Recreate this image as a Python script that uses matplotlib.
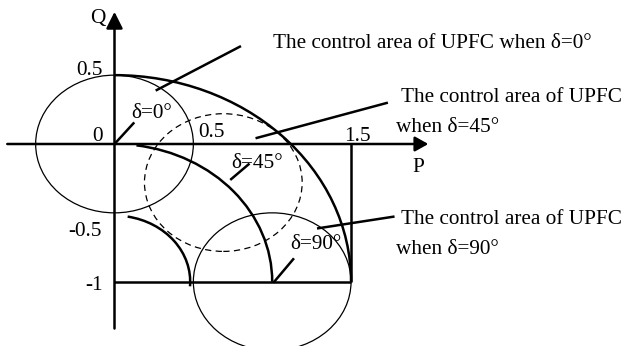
import matplotlib
matplotlib.use("Agg")
import matplotlib.pyplot as plt
from matplotlib.patches import Circle, Arc

plt.rcParams['font.family'] = ['Liberation Serif', 'DejaVu Serif']

# ---- data ----
delta_labels = ["δ=0°", "δ=45°", "δ=90°"]
region_center_P = [0.0, 0.69, 1.0]
region_center_Q = [0.0, -0.28, -1.0]
region_radius = [0.5, 0.5, 0.5]
region_style = ["solid", "dashed", "solid"]

boundary_center = (0.0, -1.0)
boundary_radius = [0.48, 1.0, 1.5]
boundary_theta1 = [-4, 0, 0]
boundary_theta2 = [80, 82, 90]

p_ticks = [0.5, 1.5]
p_tick_labels = ["0.5", "1.5"]
q_ticks = [0.5, 0, -0.5, -1]
q_tick_labels = ["0.5", "0", "-0.5", "-1"]

area_texts = [["The control area of UPFC when δ=0°"],
              ["The control area of UPFC", "when δ=45°"],
              ["The control area of UPFC", "when δ=90°"]]

# ---- figure ----
W, H = 623, 346
fig = plt.figure(figsize=(W / 100, H / 100), dpi=100)
ax = fig.add_axes([0, 0, 1, 1])
ox, oy, sx, sy = 114.5, 144.0, 157.7, 137.7
ax.set_xlim(-ox / sx, (W - ox) / sx)
ax.set_ylim((oy - H) / sy, oy / sy)
ax.axis('off')

FS = 15.3
thick = 1.8
thin = 0.9

# axes with arrows
ax.annotate('', xy=(1.99, 0), xytext=(-0.68, 0),
            arrowprops=dict(arrowstyle='-|>,head_length=0.5,head_width=0.28',
                            lw=thick, color='k', shrinkA=0, shrinkB=0,
                            mutation_scale=16))
ax.annotate('', xy=(0, 0.96), xytext=(0, -1.34),
            arrowprops=dict(arrowstyle='-|>,head_length=0.5,head_width=0.25',
                            lw=thick, color='k', shrinkA=0, shrinkB=0,
                            mutation_scale=20))

# boundary lines
ax.plot([0, 1.5], [-1, -1], color='k', lw=thick, solid_capstyle='butt')
ax.plot([1.5, 1.5], [0, -1], color='k', lw=thick, solid_capstyle='butt')

# boundary arcs
for r, t1, t2 in zip(boundary_radius, boundary_theta1, boundary_theta2):
    ax.add_patch(Arc(boundary_center, 2 * r, 2 * r, theta1=t1, theta2=t2,
                     color='k', lw=thick))

# control-area circles
for cp, cq, r, st in zip(region_center_P, region_center_Q, region_radius, region_style):
    ls = (0, (5, 3.5)) if st == "dashed" else '-'
    ax.add_patch(Circle((cp, cq), r, fill=False, ec='k', lw=thin, ls=ls))

# delta pointer lines and labels
ptr = [((0.0, 0.0), (0.12, 0.15)),
       ((0.74, -0.255), (0.85, -0.148)),
       ((1.013, -1.0), (1.133, -0.837))]
lab_pos = [(0.238, 0.225), (0.904, -0.138), (1.28, -0.733)]
for (a, b), (lx, ly), t in zip(ptr, lab_pos, delta_labels):
    ax.plot([a[0], b[0]], [a[1], b[1]], color='k', lw=thick)
    ax.text(lx, ly, t, fontsize=FS, ha='center', va='center')

# tick labels
ax.text(-0.073, 0.537, q_tick_labels[0], fontsize=FS, ha='right', va='center')
ax.text(-0.073, 0.051, q_tick_labels[1], fontsize=FS, ha='right', va='center')
ax.text(-0.078, -0.639, q_tick_labels[2], fontsize=FS, ha='right', va='center')
ax.text(-0.073, -1.024, q_tick_labels[3], fontsize=FS, ha='right', va='center')
ax.text(p_ticks[0] + 0.115, 0.087, p_tick_labels[0], fontsize=FS, ha='center', va='center')
ax.text(p_ticks[1] + 0.041, 0.051, p_tick_labels[1], fontsize=FS, ha='center', va='center')
ax.text(-0.108, 0.915, "Q", fontsize=FS, ha='center', va='center')
ax.text(1.928, -0.174, "P", fontsize=FS, ha='center', va='center')

# leader lines
leaders = [((0.268, 0.392), (0.795, 0.707)),
           ((0.902, 0.044), (1.726, 0.298)),
           ((1.292, -0.612), (1.768, -0.528))]
for a, b in leaders:
    ax.plot([a[0], b[0]], [a[1], b[1]], color='k', lw=thick)

# annotation texts (pixel positions converted to data)
def px(x, y):
    return (x - ox) / sx, (oy - y) / sy

text_pos = [[(273, 43)], [(401.5, 97), (396.5, 127)], [(401.5, 220), (396, 250)]]
for lines, poss in zip(area_texts, text_pos):
    for t, (x, y) in zip(lines, poss):
        X, Y = px(x, y)
        ax.text(X, Y, t, fontsize=FS, ha='left', va='center')

fig.savefig("out.png", dpi=100)
